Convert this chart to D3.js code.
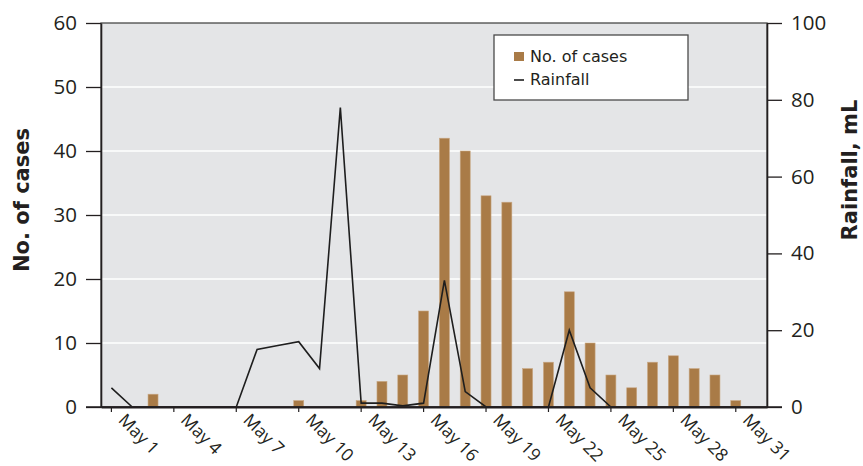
<!DOCTYPE html>
<meta charset="utf-8">
<style>
body {
  margin: 0;
  background: #fff;
}
svg {
  display: block;
}
.tick text {
  font-family: "Open Sans", sans-serif;
  fill: #231f20;
}
.title {
  font-family: "DejaVu Sans", sans-serif;
  font-weight: bold;
  font-size: 21px;
  fill: #231f20;
}
.legend text {
  font-family: "DejaVu Sans", sans-serif;
  font-size: 16px;
  fill: #231f20;
}
</style>
<body>
<script src="https://d3js.org/d3.v7.min.js"></script>
<script>

// Data (May 1 - May 31)
var days = d3.range(1, 32);
var cases = [0, 0, 2, 0, 0, 0, 0, 0, 0, 1, 0, 0, 1, 4, 5, 15, 42, 40, 33, 32, 6, 7, 18, 10, 5, 3, 7, 8, 6, 5, 1];
var rainfall = [5, 0, 0, 0, 0, 0, 0, 15, 16, 17, 10, 78, 1, 1, 0.3, 1, 33, 4, 0, 0, 0, 0, 20, 5, 0, 0, 0, 0, 0, 0, 0];
var labelDays = [1, 4, 7, 10, 13, 16, 19, 22, 25, 28, 31];
var casesTicks = [0, 10, 20, 30, 40, 50, 60];
var rainTicks = [0, 20, 40, 60, 80, 100];

var data = days.map(function(d, i) {
  return {day: d, cases: cases[i], rain: rainfall[i]};
});

// Bounds
var margin = {top: 23, right: 96, bottom: 59, left: 101};
var width = 863 - margin.left - margin.right;
var height = 466 - margin.top - margin.bottom;

// one extra empty slot after May 31, as in the original
var x = d3.scaleBand()
    .domain(d3.range(1, 33))
    .range([0, width])
    .paddingInner(0.52)
    .paddingOuter(0.26);

var y = d3.scaleLinear().domain([0, 60]).range([height, 0]);
var y2 = d3.scaleLinear().domain([0, 100]).range([height, 0]);

var cx = function(d) { return x(d) + x.bandwidth() / 2; };

var svg = d3.select("body").append("svg")
    .attr("width", 863)
    .attr("height", 466)
  .append("g")
    .attr("transform", "translate(" + margin.left + "," + margin.top + ")");

// plot background
svg.append("rect")
    .attr("width", width)
    .attr("height", height)
    .attr("fill", "#e4e5e7");

// white gridlines on the left scale
svg.selectAll(".grid")
    .data(casesTicks.slice(1, -1))
  .enter().append("line")
    .attr("x1", 0)
    .attr("x2", width)
    .attr("y1", function(d) { return y(d); })
    .attr("y2", function(d) { return y(d); })
    .attr("stroke", "#fff")
    .attr("stroke-width", 1.5);

// bars
svg.selectAll(".bar")
    .data(data.filter(function(d) { return d.cases > 0; }))
  .enter().append("rect")
    .attr("class", "bar")
    .attr("x", function(d) { return x(d.day); })
    .attr("width", x.bandwidth())
    .attr("y", function(d) { return y(d.cases); })
    .attr("height", function(d) { return height - y(d.cases); })
    .attr("fill", "#a97b47")
    .attr("stroke", "#c8a783")
    .attr("stroke-width", 0.6);

// rainfall line
var line = d3.line()
    .x(function(d) { return cx(d.day); })
    .y(function(d) { return y2(d.rain); });

svg.append("path")
    .datum(data)
    .attr("d", line)
    .attr("fill", "none")
    .attr("stroke", "#1e1e1e")
    .attr("stroke-width", 1.6)
    .attr("stroke-linejoin", "miter");

// frame
svg.append("rect")
    .attr("width", width)
    .attr("height", height)
    .attr("fill", "none")
    .attr("stroke", "#3a3a3a")
    .attr("stroke-width", 1.2);

// left axis
var yAxis = svg.append("g")
    .call(d3.axisLeft(y).tickValues(casesTicks).tickSize(15).tickSizeOuter(0).tickPadding(9));
yAxis.select(".domain").attr("stroke", "#231f20").attr("stroke-width", 1.6);
yAxis.selectAll(".tick line").attr("stroke", "#231f20").attr("stroke-width", 1.3);
yAxis.selectAll(".tick text").style("font-size", "20.5px");

// right axis
var y2Axis = svg.append("g")
    .attr("transform", "translate(" + width + ",0)")
    .call(d3.axisRight(y2).tickValues(rainTicks).tickSize(15).tickSizeOuter(0).tickPadding(9));
y2Axis.select(".domain").attr("stroke", "#231f20").attr("stroke-width", 1.6);
y2Axis.selectAll(".tick line").attr("stroke", "#231f20").attr("stroke-width", 1.3);
y2Axis.selectAll(".tick text").style("font-size", "20.5px");

// bottom axis
var xAxis = svg.append("g")
    .attr("transform", "translate(0," + height + ")")
    .call(d3.axisBottom(x).tickValues(labelDays).tickSize(5).tickSizeOuter(0)
      .tickFormat(function(d) { return "May " + d; }));
xAxis.select(".domain").attr("stroke", "#231f20").attr("stroke-width", 2);
xAxis.selectAll(".tick line").attr("stroke", "#231f20").attr("stroke-width", 1.2);
xAxis.selectAll(".tick text")
    .style("font-size", "17.5px")
    .style("text-anchor", "start")
    .attr("x", 0)
    .attr("y", 0)
    .attr("dy", 0)
    .attr("transform", "translate(6,14) rotate(45)");

// base line extends under both outer tick marks
svg.append("line")
    .attr("x1", -15)
    .attr("x2", width + 15)
    .attr("y1", height)
    .attr("y2", height)
    .attr("stroke", "#231f20")
    .attr("stroke-width", 1.6);

// axis titles
svg.append("text")
    .attr("class", "title")
    .attr("transform", "rotate(-90)")
    .attr("x", -177)
    .attr("y", -72)
    .style("text-anchor", "middle")
    .text("No. of cases");

svg.append("text")
    .attr("class", "title")
    .attr("transform", "rotate(-90)")
    .attr("x", -147)
    .attr("y", width + 90)
    .style("text-anchor", "middle")
    .text("Rainfall, mL");

// legend
var legend = svg.append("g")
    .attr("class", "legend")
    .attr("transform", "translate(393,12)");

legend.append("rect")
    .attr("width", 194)
    .attr("height", 65)
    .attr("fill", "#fff")
    .attr("stroke", "#4a4a4a")
    .attr("stroke-width", 1.3);

legend.append("rect")
    .attr("x", 20)
    .attr("y", 17)
    .attr("width", 10)
    .attr("height", 9)
    .attr("fill", "#a97b47");

legend.append("text")
    .attr("x", 36)
    .attr("y", 27)
    .text("No. of cases");

legend.append("line")
    .attr("x1", 20)
    .attr("x2", 30)
    .attr("y1", 45)
    .attr("y2", 45)
    .attr("stroke", "#1e1e1e")
    .attr("stroke-width", 1.6);

legend.append("text")
    .attr("x", 36)
    .attr("y", 50)
    .text("Rainfall");

</script>
</body>
